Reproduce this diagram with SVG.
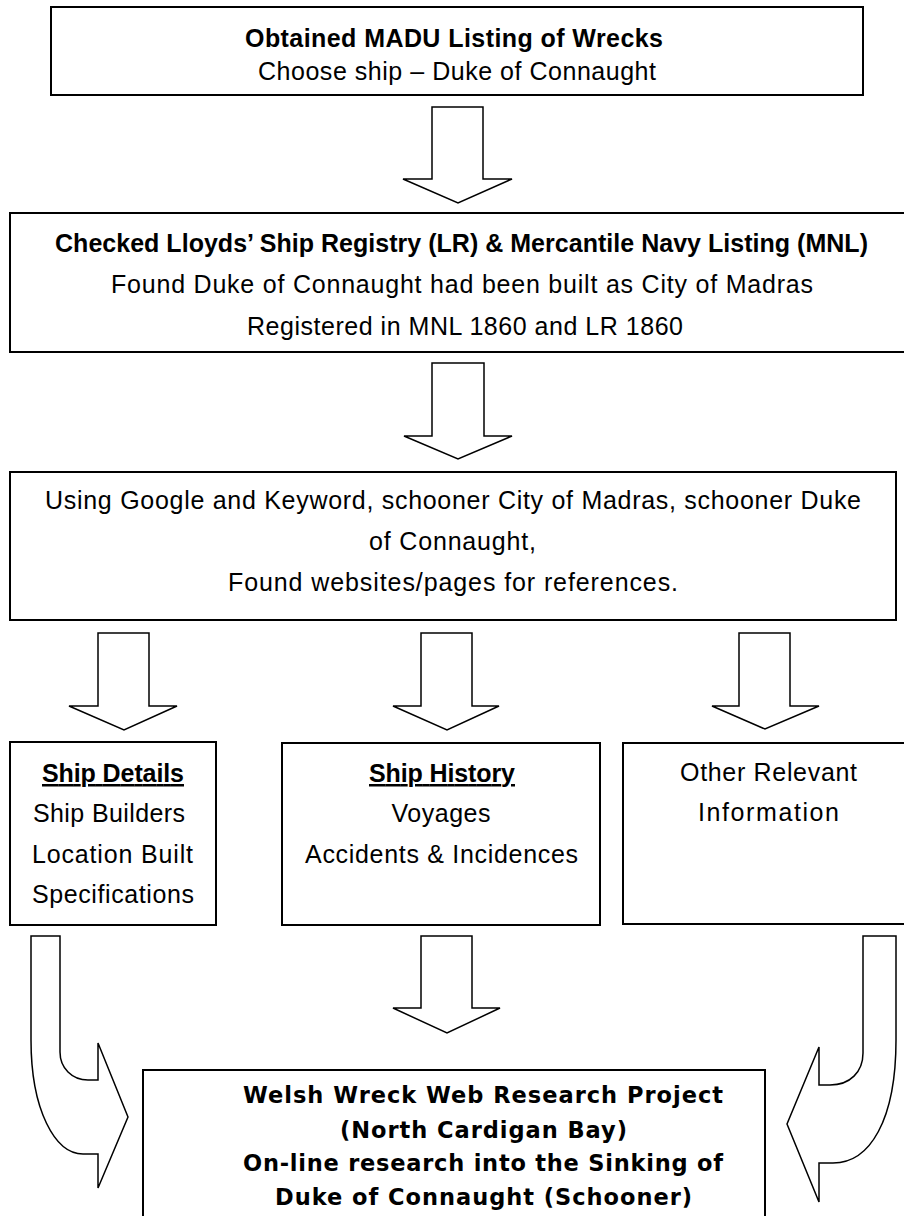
<svg xmlns="http://www.w3.org/2000/svg" width="904" height="1216" viewBox="0 0 904 1216">
<style>
.box{fill:#fff;stroke:#000;stroke-width:2}
.arr{fill:#fff;stroke:#000;stroke-width:1.5;stroke-linejoin:miter}
.t{font-family:"Liberation Sans",Arial,sans-serif;font-size:25px;fill:#000;text-anchor:middle}
.b{font-weight:bold}
.u{text-decoration:underline}
.v{font-family:"DejaVu Sans",Verdana,sans-serif;font-size:22.5px;font-weight:bold;fill:#000;text-anchor:middle}
</style>
<rect width="904" height="1216" fill="#fff"/>
<g id="connectors">
<path class="arr" d="M432,107 L483,107 L483,179 L512,179 L458,203 L403,179 L432,179 Z"/>
<path class="arr" d="M432,363 L484,363 L484,436 L512,436 L458,459 L404,436 L432,436 Z"/>
<path class="arr" d="M98,633 L149,633 L149,706 L177,706 L124,730 L69,706 L98,706 Z"/>
<path class="arr" d="M421,633 L472,633 L472,706 L499,706 L447,730 L393,706 L421,706 Z"/>
<path class="arr" d="M739,633 L790,633 L790,706 L819,706 L765,729 L712,706 L739,706 Z"/>
<path class="arr" d="M421,936 L472,936 L472,1008 L500,1008 L447,1033 L393,1008 L421,1008 Z"/>
<path class="arr" d="M31,936 L60,936 L60,1052 C60,1068 72,1080 88,1080 L98,1080 L98,1043 L128,1117 L98,1188 L98,1154 L83,1154 C55,1154 31,1110 31,1040 Z"/>
<path class="arr" d="M863,936 L896,936 L896,1040 C896,1120 870,1163 833,1163 L819,1163 L819,1202 L787,1124 L819,1047 L819,1085 L830,1085 C850,1085 863,1072 863,1053 Z"/>
</g>
<g id="n1">
<rect class="box" x="51" y="7" width="812" height="88"/>
<text class="t b" x="454" y="47" textLength="418">Obtained MADU Listing of Wrecks</text>
<text class="t" x="457" y="80" textLength="398">Choose ship – Duke of Connaught</text>
</g>
<g id="n2">
<rect class="box" x="10" y="213" width="903" height="139"/>
<text class="t b" x="461.5" y="252" textLength="813">Checked Lloyds’ Ship Registry (LR) &amp; Mercantile Navy Listing (MNL)</text>
<text class="t" x="462" y="293" textLength="702">Found Duke of Connaught had been built as City of Madras</text>
<text class="t" x="465" y="335" textLength="436">Registered in MNL 1860 and LR 1860</text>
</g>
<g id="n3">
<rect class="box" x="10" y="472" width="886" height="148"/>
<text class="t" x="453" y="509" textLength="816">Using Google and Keyword, schooner City of Madras, schooner Duke</text>
<text class="t" x="452.5" y="550" textLength="167">of Connaught,</text>
<text class="t" x="453" y="591" textLength="450">Found websites/pages for references.</text>
</g>
<g id="n4">
<rect class="box" x="10" y="742" width="206" height="183"/>
<text class="t b u" x="113" y="782" textLength="142">Ship Details</text>
<text class="t" x="109" y="822" textLength="152">Ship Builders</text>
<text class="t" x="112.5" y="863" textLength="161">Location Built</text>
<text class="t" x="113" y="903" textLength="162">Specifications</text>
</g>
<g id="n5">
<rect class="box" x="282" y="743" width="318" height="182"/>
<text class="t b u" x="442" y="782" textLength="146">Ship History</text>
<text class="t" x="441" y="822" textLength="99">Voyages</text>
<text class="t" x="441.5" y="863" textLength="273">Accidents &amp; Incidences</text>
</g>
<g id="n6">
<rect class="box" x="623" y="743" width="290" height="181"/>
<text class="t" x="768.5" y="781" textLength="177">Other Relevant</text>
<text class="t" x="768.5" y="821" textLength="141">Information</text>
</g>
<g id="n7">
<rect class="box" x="143" y="1070" width="622" height="160"/>
<text class="v" x="483" y="1103" textLength="480">Welsh Wreck Web Research Project</text>
<text class="v" x="483.5" y="1138" textLength="287">(North Cardigan Bay)</text>
<text class="v" x="483" y="1171" textLength="480">On-line research into the Sinking of</text>
<text class="v" x="483.5" y="1205" textLength="417">Duke of Connaught (Schooner)</text>
</g>
</svg>
